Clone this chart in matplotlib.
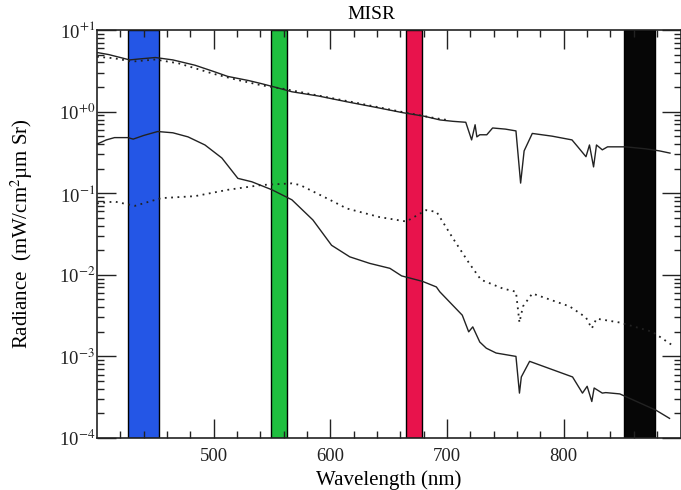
import numpy as np
import matplotlib.pyplot as plt
from matplotlib.ticker import FixedLocator, LogLocator, NullFormatter, FixedFormatter

plt.rcParams['font.family'] = ['Liberation Serif', 'DejaVu Serif']
plt.rcParams['mathtext.fontset'] = 'stix'

# upper pair (solid / dotted)
wl_top = [400, 410, 420, 428, 435, 450, 465, 484, 500, 512, 530, 541, 555, 567, 590,
          614, 640, 662, 680, 694, 705, 716, 721, 724, 725.5, 728, 734, 739, 750, 759,
          763, 766, 773, 790, 807, 812, 819, 822, 825.5, 828, 833, 837.5, 853, 870, 882, 891]
rad_top = [5.3, 5.0, 4.6, 4.3, 4.4, 4.6, 4.3, 3.7, 3.1, 2.7, 2.4, 2.2, 1.95, 1.75, 1.55,
           1.32, 1.12, 0.97, 0.88, 0.79, 0.76, 0.74, 0.45, 0.69, 0.49, 0.52, 0.52, 0.63, 0.61, 0.58,
           0.133, 0.33, 0.54, 0.50, 0.45, 0.37, 0.28, 0.39, 0.21, 0.39, 0.34, 0.37, 0.37, 0.35, 0.33, 0.31]

wl_top_dot = [400, 415, 430, 450, 470, 484, 500, 520, 541, 560, 590, 620, 660, 690, 700]
rad_top_dot = [4.7, 4.5, 4.1, 4.35, 3.9, 3.4, 2.9, 2.45, 2.1, 1.9, 1.57, 1.3, 1.0, 0.83, 0.79]

# lower pair
wl_low = [400, 408, 415, 426.5, 431, 440, 452, 465, 478, 492.5, 507, 520.7, 532.7, 550, 567,
          585, 601, 616.6, 633.7, 651, 661, 679, 690.8, 693.7, 713, 718.5, 722, 728, 733.6,
          742, 759, 762, 763.6, 770.7, 807.5, 816, 820, 824, 826, 833, 836, 848, 879, 890.6]
rad_low = [0.40, 0.45, 0.48, 0.48, 0.46, 0.51, 0.57, 0.55, 0.49, 0.39, 0.27, 0.152, 0.138,
           0.110, 0.083, 0.047, 0.023, 0.0166, 0.0138, 0.012, 0.0097, 0.0083, 0.0071, 0.0062,
           0.0032, 0.0020, 0.0023, 0.0015, 0.00126, 0.0011, 0.0010, 0.000355, 0.00056, 0.00087,
           0.00056, 0.000355, 0.00043, 0.00028, 0.00041, 0.000355, 0.00036, 0.000347,
           0.000219, 0.000174]

wl_low_dot = [400, 415, 432.5, 455, 484, 512, 541, 567, 574, 599.5, 614, 642, 665, 682, 691,
              705, 719, 729, 747.6, 759, 762, 765, 773, 805, 819, 824, 828, 848, 876, 892]
rad_low_dot = [0.075, 0.079, 0.070, 0.087, 0.092, 0.11, 0.126, 0.132, 0.126, 0.083, 0.065,
               0.051, 0.045, 0.062, 0.059, 0.028, 0.0138, 0.0087, 0.0068, 0.0062, 0.0026,
               0.0041, 0.0059, 0.0041, 0.0030, 0.0022, 0.0029, 0.0026, 0.0020, 0.0014]

# MISR bands (nm)
band_lo = [426.5, 548.7, 665, 852]
band_hi = [453, 563, 678.6, 878]
band_col = ['#2456e6', '#1fbf3f', '#e8134c', '#060606']

fig = plt.figure(figsize=(6.81, 4.90), dpi=100)
ax = fig.add_axes([97 / 681, 52 / 490, 583.5 / 681, 408 / 490])

for lo, hi, c in zip(band_lo, band_hi, band_col):
    ax.axvspan(lo, hi, facecolor=c, edgecolor='black', linewidth=1.0, zorder=1)

ax.plot(wl_top, rad_top, color='#222222', lw=1.0, zorder=3)
ax.plot(wl_top_dot, rad_top_dot, color='#222222', lw=1.3, linestyle=(0, (1, 2.5)), zorder=3)
ax.plot(wl_low, rad_low, color='#222222', lw=1.0, zorder=3)
ax.plot(wl_low_dot, rad_low_dot, color='#222222', lw=1.3, linestyle=(0, (1, 2.5)), zorder=3)

ax.set_yscale('log')
ax.set_xlim(400, 900)
ax.set_ylim(1e-4, 1e1)

ax.xaxis.set_major_locator(FixedLocator([500, 600, 700, 800]))
ax.xaxis.set_minor_locator(FixedLocator([v for v in range(420, 900, 20) if v % 100]))
yt = [1e-4, 1e-3, 1e-2, 1e-1, 1e0, 1e1]
ax.yaxis.set_major_locator(FixedLocator(yt))
ax.yaxis.set_major_formatter(FixedFormatter(['10$^{-4}$', '10$^{-3}$', '10$^{-2}$', '10$^{-1}$',
                                             '10$^{+0}$', '10$^{+1}$']))
ax.yaxis.set_minor_locator(LogLocator(base=10, subs=np.arange(2, 10)))
ax.yaxis.set_minor_formatter(NullFormatter())

ax.tick_params(which='both', direction='in', top=True, right=True, width=1.0, colors='#222222')
ax.tick_params(which='major', length=14, labelsize=13.5)
ax.tick_params(which='minor', length=5)
ax.tick_params(axis='x', which='major', pad=7)
ax.tick_params(axis='y', which='major', pad=1.5)
for s in ax.spines.values():
    s.set_linewidth(1.2)
    s.set_color('#222222')

ax.set_title('MISR', fontsize=14, pad=8, x=0.471)
ax.set_xlabel('Wavelength (nm)', fontsize=15, labelpad=4)
ax.set_ylabel('Radiance  (mW/cm$^2$\u00b5m Sr)', fontsize=15, labelpad=17)

fig.savefig('out.png', dpi=100)
